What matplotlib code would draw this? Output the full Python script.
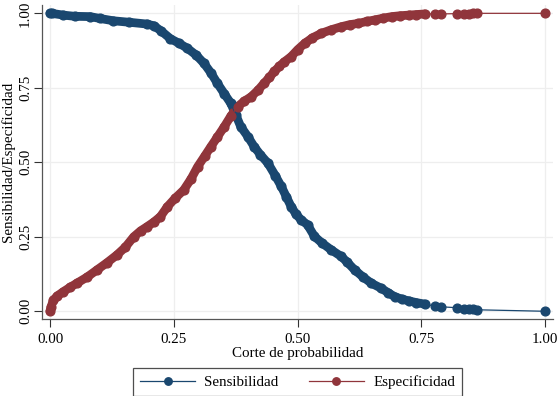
import matplotlib
matplotlib.use('Agg')
import matplotlib.pyplot as plt
import numpy as np

# cut-off values and curves
sens_x = [0.000, 0.003, 0.027, 0.050, 0.081, 0.100, 0.128, 0.160, 0.196, 0.210,
          0.225, 0.243, 0.260, 0.277, 0.295, 0.311, 0.325, 0.338, 0.352, 0.365,
          0.375, 0.385, 0.400, 0.412, 0.425, 0.440, 0.455, 0.467, 0.477, 0.487,
          0.497, 0.507, 0.520, 0.534, 0.550, 0.568, 0.588, 0.600, 0.615, 0.632,
          0.649, 0.669, 0.683, 0.696, 0.710, 0.724, 0.740, 0.757,
          0.778, 0.790, 0.821, 0.835, 0.845, 0.855, 0.862, 1.000]
sens_y = [1.000, 1.000, 0.994, 0.990, 0.989, 0.983, 0.975, 0.970, 0.964, 0.958,
          0.940, 0.915, 0.900, 0.883, 0.860, 0.832, 0.800, 0.765, 0.730, 0.698,
          0.660, 0.620, 0.585, 0.553, 0.525, 0.497, 0.455, 0.419, 0.385, 0.351,
          0.325, 0.307, 0.290, 0.251, 0.228, 0.206, 0.184, 0.165, 0.139, 0.115,
          0.094, 0.077, 0.062, 0.049, 0.041, 0.035, 0.029, 0.024,
          0.017, 0.015, 0.012, 0.009, 0.008, 0.007, 0.005, 0.000]

spec_x = [0.000, 0.002, 0.007, 0.015, 0.027, 0.040, 0.054, 0.075, 0.095, 0.115,
          0.135, 0.152, 0.169, 0.183, 0.196, 0.210, 0.223, 0.237, 0.253, 0.270,
          0.285, 0.298, 0.312, 0.325, 0.338, 0.352, 0.365, 0.379, 0.392, 0.406,
          0.420, 0.432, 0.443, 0.453, 0.463, 0.473, 0.487, 0.500, 0.514, 0.530,
          0.548, 0.568, 0.588, 0.605, 0.622, 0.640, 0.656, 0.673, 0.690, 0.707,
          0.724, 0.740, 0.757,
          0.778, 0.790, 0.821, 0.835, 0.845, 0.855, 0.862, 1.000]
spec_y = [0.000, 0.015, 0.038, 0.052, 0.066, 0.080, 0.094, 0.115, 0.139, 0.163,
          0.189, 0.215, 0.250, 0.270, 0.284, 0.300, 0.318, 0.351, 0.380, 0.407,
          0.445, 0.485, 0.520, 0.553, 0.585, 0.620, 0.655, 0.687, 0.705, 0.720,
          0.742, 0.765, 0.785, 0.805, 0.822, 0.837, 0.855, 0.878, 0.899, 0.918,
          0.933, 0.945, 0.955, 0.962, 0.966, 0.973, 0.978, 0.984, 0.989, 0.992,
          0.994, 0.996, 0.998,
          0.998, 0.998, 0.999, 0.999, 0.999, 1.000, 1.000, 1.000]

ticks = [0.0, 0.25, 0.5, 0.75, 1.0]
tick_labels = ['0.00', '0.25', '0.50', '0.75', '1.00']

navy = '#1a476f'
maroon = '#90353b'

plt.rcParams['font.family'] = ['Liberation Serif', 'DejaVu Serif']
fs = 10.8

fig = plt.figure(figsize=(5.59, 3.96), dpi=100)
ax = fig.add_axes([0.0746, 0.1944, 0.915, 0.793])

for xs, ys, col, lab in [(sens_x, sens_y, navy, 'Sensibilidad'),
                         (spec_x, spec_y, maroon, 'Especificidad')]:
    xs = np.array(xs)
    ys = np.array(ys)
    dense = xs <= 0.76
    # the overlapping markers form a solid band in the dense part
    ax.plot(xs[dense], ys[dense], color=col, lw=6.3, solid_capstyle='round',
            solid_joinstyle='round', zorder=3)
    ax.plot(xs, ys, color=col, lw=0.9, marker='o', ms=6.3, mec=col, mfc=col,
            label=lab, zorder=4)

ax.set_xlim(-0.0168, 1.016)
ax.set_ylim(-0.026, 1.028)
ax.set_xticks(ticks)
ax.set_xticklabels(tick_labels, fontsize=fs)
ax.set_yticks(ticks)
ax.set_yticklabels(tick_labels, fontsize=fs, rotation=90, va='center')
ax.tick_params(axis='both', length=6, width=0.8, color='#333333')
ax.tick_params(axis='x', pad=4)
ax.tick_params(axis='y', pad=1)
ax.grid(True, color='#eeeeee', lw=0.9)
ax.set_axisbelow(True)
for s in ['top', 'right']:
    ax.spines[s].set_visible(False)
for s in ['left', 'bottom']:
    ax.spines[s].set_color('#555555')
    ax.spines[s].set_linewidth(0.9)

ax.set_xlabel('Corte de probabilidad', fontsize=fs)
ax.xaxis.set_label_coords(0.5, -0.088)
ax.set_ylabel('Sensibilidad/Especificidad', fontsize=fs)
ax.yaxis.set_label_coords(-0.052, 0.5)

handles, labels = ax.get_legend_handles_labels()
leg = fig.legend(handles, labels, loc='center', bbox_to_anchor=(0.532, 0.035),
                 ncol=2, fontsize=fs, frameon=True, fancybox=False,
                 edgecolor='#222222', handlelength=3.7, columnspacing=2.0,
                 borderpad=0.45, handletextpad=0.6, markerscale=0.85)
leg.get_frame().set_linewidth(0.9)

fig.savefig('out.png', dpi=100)
